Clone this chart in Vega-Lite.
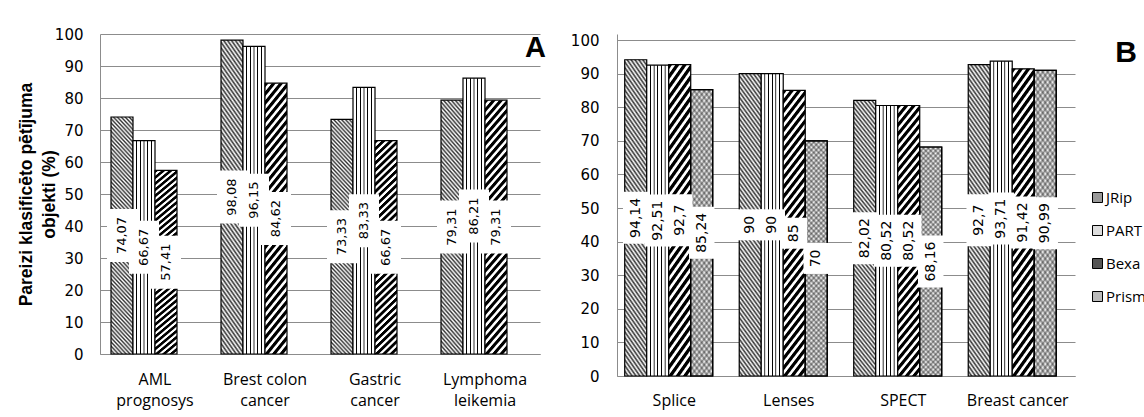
{
"$schema":"https://vega.github.io/schema/vega-lite/v6.json",
"background":"white",
"padding":{"left":17,"top":27,"right":0,"bottom":12},
"spacing":24,
"datasets":{
"a":[
{"cat":"AML prognosys","s":"JRip","v":74.07},{"cat":"AML prognosys","s":"PART","v":66.67},{"cat":"AML prognosys","s":"Bexa","v":57.41},
{"cat":"Brest colon cancer","s":"JRip","v":98.08},{"cat":"Brest colon cancer","s":"PART","v":96.15},{"cat":"Brest colon cancer","s":"Bexa","v":84.62},
{"cat":"Gastric cancer","s":"JRip","v":73.33},{"cat":"Gastric cancer","s":"PART","v":83.33},{"cat":"Gastric cancer","s":"Bexa","v":66.67},
{"cat":"Lymphoma leikemia","s":"JRip","v":79.31},{"cat":"Lymphoma leikemia","s":"PART","v":86.21},{"cat":"Lymphoma leikemia","s":"Bexa","v":79.31}
],
"b":[
{"cat":"Splice","s":"JRip","v":94.14},{"cat":"Splice","s":"PART","v":92.51},{"cat":"Splice","s":"Bexa","v":92.7},{"cat":"Splice","s":"Prism","v":85.24},
{"cat":"Lenses","s":"JRip","v":90},{"cat":"Lenses","s":"PART","v":90},{"cat":"Lenses","s":"Bexa","v":85},{"cat":"Lenses","s":"Prism","v":70},
{"cat":"SPECT","s":"JRip","v":82.02},{"cat":"SPECT","s":"PART","v":80.52},{"cat":"SPECT","s":"Bexa","v":80.52},{"cat":"SPECT","s":"Prism","v":68.16},
{"cat":"Breast cancer","s":"JRip","v":92.7},{"cat":"Breast cancer","s":"PART","v":93.71},{"cat":"Breast cancer","s":"Bexa","v":91.42},{"cat":"Breast cancer","s":"Prism","v":90.99}
]
},
"hconcat":[
{
"width":440,"height":320,
"data":{"name":"a"},
"title":{"text":"A","anchor":"end","frame":"group","font":"Liberation Sans","fontSize":29,"fontWeight":"bold","color":"#000","offset":-36,"dx":6},
"encoding":{
"x":{"field":"cat","type":"nominal","sort":null,"title":null,"scale":{"paddingInner":0.2,"paddingOuter":0.1},
"axis":{"labelAngle":0,"labelFont":"Open Sans","labelFontSize":16,"labelPadding":17,"labelLineHeight":21.5,"labelBaseline":"top","labelExpr":"datum.value == 'Brest colon cancer' ? ['Brest colon', 'cancer'] : split(datum.value, ' ')"}},
"xOffset":{"field":"s","type":"nominal","scale":{"domain":["JRip","PART","Bexa"],"paddingInner":0,"paddingOuter":0}}
},
"layer":[
{"encoding":{"y":{"field":"v","type":"quantitative","scale":{"domain":[0,100],"nice":false},
"axis":{"values":[0,10,20,30,40,50,60,70,80,90,100],"grid":true,"labelPadding":17,"title":["Pareizi klasificēto pētījuma","objekti (%)"],"titleFont":"Liberation Sans","titleFontSize":17.5,"titleFontWeight":"bold","titleColor":"#000","titleLineHeight":23,"titlePadding":-4}}},
"layer":[
{"transform":[{"filter":"datum.s === 'JRip'"}],"mark":{"type":"bar","stroke":"#000","strokeWidth":1.2,"fill":{"gradient":"linear","x1":1,"y1":0,"x2":0.89,"y2":1.1,"stops":[
{"offset":0,"color":"#333"},{"offset":0.008,"color":"#fff"},{"offset":0.016,"color":"#333"},{"offset":0.024,"color":"#fff"},
{"offset":0.032,"color":"#333"},{"offset":0.04,"color":"#fff"},{"offset":0.048,"color":"#333"},{"offset":0.056,"color":"#fff"},
{"offset":0.064,"color":"#333"},{"offset":0.072,"color":"#fff"},{"offset":0.08,"color":"#333"},{"offset":0.088,"color":"#fff"},
{"offset":0.096,"color":"#333"},{"offset":0.104,"color":"#fff"},{"offset":0.112,"color":"#333"},{"offset":0.12,"color":"#fff"},
{"offset":0.128,"color":"#333"},{"offset":0.136,"color":"#fff"},{"offset":0.144,"color":"#333"},{"offset":0.152,"color":"#fff"},
{"offset":0.16,"color":"#333"},{"offset":0.168,"color":"#fff"},{"offset":0.176,"color":"#333"},{"offset":0.184,"color":"#fff"},
{"offset":0.192,"color":"#333"},{"offset":0.2,"color":"#fff"},{"offset":0.208,"color":"#333"},{"offset":0.216,"color":"#fff"},
{"offset":0.224,"color":"#333"},{"offset":0.232,"color":"#fff"},{"offset":0.24,"color":"#333"},{"offset":0.248,"color":"#fff"},
{"offset":0.256,"color":"#333"},{"offset":0.264,"color":"#fff"},{"offset":0.272,"color":"#333"},{"offset":0.28,"color":"#fff"},
{"offset":0.288,"color":"#333"},{"offset":0.296,"color":"#fff"},{"offset":0.304,"color":"#333"},{"offset":0.312,"color":"#fff"},
{"offset":0.32,"color":"#333"},{"offset":0.328,"color":"#fff"},{"offset":0.336,"color":"#333"},{"offset":0.344,"color":"#fff"},
{"offset":0.352,"color":"#333"},{"offset":0.36,"color":"#fff"},{"offset":0.368,"color":"#333"},{"offset":0.376,"color":"#fff"},
{"offset":0.384,"color":"#333"},{"offset":0.392,"color":"#fff"},{"offset":0.4,"color":"#333"},{"offset":0.408,"color":"#fff"},
{"offset":0.416,"color":"#333"},{"offset":0.424,"color":"#fff"},{"offset":0.432,"color":"#333"},{"offset":0.44,"color":"#fff"},
{"offset":0.448,"color":"#333"},{"offset":0.456,"color":"#fff"},{"offset":0.464,"color":"#333"},{"offset":0.472,"color":"#fff"},
{"offset":0.48,"color":"#333"},{"offset":0.488,"color":"#fff"},{"offset":0.496,"color":"#333"},{"offset":0.504,"color":"#fff"},
{"offset":0.512,"color":"#333"},{"offset":0.52,"color":"#fff"},{"offset":0.528,"color":"#333"},{"offset":0.536,"color":"#fff"},
{"offset":0.544,"color":"#333"},{"offset":0.552,"color":"#fff"},{"offset":0.56,"color":"#333"},{"offset":0.568,"color":"#fff"},
{"offset":0.576,"color":"#333"},{"offset":0.584,"color":"#fff"},{"offset":0.592,"color":"#333"},{"offset":0.6,"color":"#fff"},
{"offset":0.608,"color":"#333"},{"offset":0.616,"color":"#fff"},{"offset":0.624,"color":"#333"},{"offset":0.632,"color":"#fff"},
{"offset":0.64,"color":"#333"},{"offset":0.648,"color":"#fff"},{"offset":0.656,"color":"#333"},{"offset":0.664,"color":"#fff"},
{"offset":0.672,"color":"#333"},{"offset":0.68,"color":"#fff"},{"offset":0.688,"color":"#333"},{"offset":0.696,"color":"#fff"},
{"offset":0.704,"color":"#333"},{"offset":0.712,"color":"#fff"},{"offset":0.72,"color":"#333"},{"offset":0.728,"color":"#fff"},
{"offset":0.736,"color":"#333"},{"offset":0.744,"color":"#fff"},{"offset":0.752,"color":"#333"},{"offset":0.76,"color":"#fff"},
{"offset":0.768,"color":"#333"},{"offset":0.776,"color":"#fff"},{"offset":0.784,"color":"#333"},{"offset":0.792,"color":"#fff"},
{"offset":0.8,"color":"#333"},{"offset":0.808,"color":"#fff"},{"offset":0.816,"color":"#333"},{"offset":0.824,"color":"#fff"},
{"offset":0.832,"color":"#333"},{"offset":0.84,"color":"#fff"},{"offset":0.848,"color":"#333"},{"offset":0.856,"color":"#fff"},
{"offset":0.864,"color":"#333"},{"offset":0.872,"color":"#fff"},{"offset":0.88,"color":"#333"},{"offset":0.888,"color":"#fff"},
{"offset":0.896,"color":"#333"},{"offset":0.904,"color":"#fff"},{"offset":0.912,"color":"#333"},{"offset":0.92,"color":"#fff"},
{"offset":0.928,"color":"#333"},{"offset":0.936,"color":"#fff"},{"offset":0.944,"color":"#333"},{"offset":0.952,"color":"#fff"},
{"offset":0.96,"color":"#333"},{"offset":0.968,"color":"#fff"},{"offset":0.976,"color":"#333"},{"offset":0.984,"color":"#fff"},
{"offset":0.992,"color":"#333"},{"offset":1,"color":"#fff"}]}}},
{"transform":[{"filter":"datum.s === 'PART'"}],"mark":{"type":"bar","stroke":"#000","strokeWidth":1.2,"fill":{"gradient":"linear","x1":0,"y1":0,"x2":1,"y2":0,"stops":[
{"offset":0,"color":"#fff"},
{"offset":0.1367,"color":"#fff"},{"offset":0.1547,"color":"#000"},{"offset":0.1787,"color":"#000"},{"offset":0.1967,"color":"#fff"},
{"offset":0.3033,"color":"#fff"},{"offset":0.3213,"color":"#000"},{"offset":0.3453,"color":"#000"},{"offset":0.3633,"color":"#fff"},
{"offset":0.47,"color":"#fff"},{"offset":0.488,"color":"#000"},{"offset":0.512,"color":"#000"},{"offset":0.53,"color":"#fff"},
{"offset":0.6367,"color":"#fff"},{"offset":0.6547,"color":"#000"},{"offset":0.6787,"color":"#000"},{"offset":0.6967,"color":"#fff"},
{"offset":0.8033,"color":"#fff"},{"offset":0.8213,"color":"#000"},{"offset":0.8453,"color":"#000"},{"offset":0.8633,"color":"#fff"},
{"offset":1,"color":"#fff"}]}}},
{"transform":[{"filter":"datum.s === 'Bexa'"}],"mark":{"type":"bar","stroke":"#000","strokeWidth":1.2,"fill":{"gradient":"linear","x1":0,"y1":0,"x2":0.11,"y2":1.1,"stops":[
{"offset":0,"color":"#000"},{"offset":0.012,"color":"#000"},{"offset":0.017,"color":"#fff"},{"offset":0.026,"color":"#fff"},
{"offset":0.03,"color":"#000"},{"offset":0.042,"color":"#000"},{"offset":0.047,"color":"#fff"},{"offset":0.056,"color":"#fff"},
{"offset":0.06,"color":"#000"},{"offset":0.072,"color":"#000"},{"offset":0.077,"color":"#fff"},{"offset":0.086,"color":"#fff"},
{"offset":0.09,"color":"#000"},{"offset":0.102,"color":"#000"},{"offset":0.107,"color":"#fff"},{"offset":0.116,"color":"#fff"},
{"offset":0.12,"color":"#000"},{"offset":0.132,"color":"#000"},{"offset":0.137,"color":"#fff"},{"offset":0.146,"color":"#fff"},
{"offset":0.15,"color":"#000"},{"offset":0.162,"color":"#000"},{"offset":0.167,"color":"#fff"},{"offset":0.176,"color":"#fff"},
{"offset":0.18,"color":"#000"},{"offset":0.192,"color":"#000"},{"offset":0.197,"color":"#fff"},{"offset":0.206,"color":"#fff"},
{"offset":0.21,"color":"#000"},{"offset":0.222,"color":"#000"},{"offset":0.227,"color":"#fff"},{"offset":0.236,"color":"#fff"},
{"offset":0.24,"color":"#000"},{"offset":0.252,"color":"#000"},{"offset":0.257,"color":"#fff"},{"offset":0.266,"color":"#fff"},
{"offset":0.27,"color":"#000"},{"offset":0.282,"color":"#000"},{"offset":0.287,"color":"#fff"},{"offset":0.296,"color":"#fff"},
{"offset":0.3,"color":"#000"},{"offset":0.312,"color":"#000"},{"offset":0.317,"color":"#fff"},{"offset":0.326,"color":"#fff"},
{"offset":0.33,"color":"#000"},{"offset":0.342,"color":"#000"},{"offset":0.347,"color":"#fff"},{"offset":0.356,"color":"#fff"},
{"offset":0.36,"color":"#000"},{"offset":0.372,"color":"#000"},{"offset":0.377,"color":"#fff"},{"offset":0.386,"color":"#fff"},
{"offset":0.39,"color":"#000"},{"offset":0.402,"color":"#000"},{"offset":0.407,"color":"#fff"},{"offset":0.416,"color":"#fff"},
{"offset":0.42,"color":"#000"},{"offset":0.432,"color":"#000"},{"offset":0.437,"color":"#fff"},{"offset":0.446,"color":"#fff"},
{"offset":0.45,"color":"#000"},{"offset":0.462,"color":"#000"},{"offset":0.467,"color":"#fff"},{"offset":0.476,"color":"#fff"},
{"offset":0.48,"color":"#000"},{"offset":0.492,"color":"#000"},{"offset":0.497,"color":"#fff"},{"offset":0.506,"color":"#fff"},
{"offset":0.51,"color":"#000"},{"offset":0.522,"color":"#000"},{"offset":0.527,"color":"#fff"},{"offset":0.536,"color":"#fff"},
{"offset":0.54,"color":"#000"},{"offset":0.552,"color":"#000"},{"offset":0.557,"color":"#fff"},{"offset":0.566,"color":"#fff"},
{"offset":0.57,"color":"#000"},{"offset":0.582,"color":"#000"},{"offset":0.587,"color":"#fff"},{"offset":0.596,"color":"#fff"},
{"offset":0.6,"color":"#000"},{"offset":0.612,"color":"#000"},{"offset":0.617,"color":"#fff"},{"offset":0.626,"color":"#fff"},
{"offset":0.63,"color":"#000"},{"offset":0.642,"color":"#000"},{"offset":0.647,"color":"#fff"},{"offset":0.656,"color":"#fff"},
{"offset":0.66,"color":"#000"},{"offset":0.672,"color":"#000"},{"offset":0.677,"color":"#fff"},{"offset":0.686,"color":"#fff"},
{"offset":0.69,"color":"#000"},{"offset":0.702,"color":"#000"},{"offset":0.707,"color":"#fff"},{"offset":0.716,"color":"#fff"},
{"offset":0.72,"color":"#000"},{"offset":0.732,"color":"#000"},{"offset":0.737,"color":"#fff"},{"offset":0.746,"color":"#fff"},
{"offset":0.75,"color":"#000"},{"offset":0.762,"color":"#000"},{"offset":0.767,"color":"#fff"},{"offset":0.776,"color":"#fff"},
{"offset":0.78,"color":"#000"},{"offset":0.792,"color":"#000"},{"offset":0.797,"color":"#fff"},{"offset":0.806,"color":"#fff"},
{"offset":0.81,"color":"#000"},{"offset":0.822,"color":"#000"},{"offset":0.827,"color":"#fff"},{"offset":0.836,"color":"#fff"},
{"offset":0.84,"color":"#000"},{"offset":0.852,"color":"#000"},{"offset":0.857,"color":"#fff"},{"offset":0.866,"color":"#fff"},
{"offset":0.87,"color":"#000"},{"offset":0.882,"color":"#000"},{"offset":0.887,"color":"#fff"},{"offset":0.896,"color":"#fff"},
{"offset":0.9,"color":"#000"},{"offset":0.912,"color":"#000"},{"offset":0.917,"color":"#fff"},{"offset":0.926,"color":"#fff"},
{"offset":0.93,"color":"#000"},{"offset":0.942,"color":"#000"},{"offset":0.947,"color":"#fff"},{"offset":0.956,"color":"#fff"},
{"offset":0.96,"color":"#000"},{"offset":0.972,"color":"#000"},{"offset":0.977,"color":"#fff"},{"offset":0.986,"color":"#fff"},
{"offset":0.99,"color":"#000"},{"offset":1,"color":"#000"}]}}}
]},
{"encoding":{"y":{"field":"v","type":"quantitative","scale":{"domain":[0,200],"nice":false},"axis":null}},
"layer":[
{"mark":{"type":"tick","color":"#fff","opacity":1,"thickness":53,"size":30}},
{"mark":{"type":"text","angle":270,"font":"DejaVu Sans","fontSize":13,"color":"#000","baseline":"middle","align":"center"},"encoding":{"text":{"field":"v","type":"quantitative","format":".4~g"}}}
]}
],
"resolve":{"scale":{"y":"independent"}}
},
{
"width":458,"height":342,
"data":{"name":"b"},
"title":{"text":"B","anchor":"end","frame":"group","font":"Liberation Sans","fontSize":30,"fontWeight":"bold","color":"#000","offset":-35,"dx":62},
"encoding":{
"x":{"field":"cat","type":"nominal","sort":null,"title":null,"scale":{"paddingInner":0.135,"paddingOuter":0.0675},
"axis":{"labelAngle":0,"labelFont":"Open Sans","labelFontSize":16,"labelPadding":16,"labelBaseline":"top"}},
"xOffset":{"field":"s","type":"nominal","scale":{"domain":["JRip","PART","Bexa","Prism"],"paddingInner":0,"paddingOuter":0}}
},
"layer":[
{"encoding":{"y":{"field":"v","type":"quantitative","scale":{"domain":[0,101.8],"nice":false},
"axis":{"values":[0,10,20,30,40,50,60,70,80,90,100],"grid":true,"labelPadding":18,"title":null}}},
"layer":[
{"mark":{"type":"bar","stroke":null},"encoding":{"fill":{"field":"s","type":"nominal","scale":{"domain":["JRip","PART","Bexa","Prism"],"range":["#999999","#dddddd","#555555","#bbbbbb"]},
"legend":{"title":null,"orient":"none","legendX":990,"legendY":156,"symbolType":"square","symbolSize":100,"symbolStrokeColor":"#000","symbolStrokeWidth":1,"labelFont":"Open Sans","labelFontSize":15,"labelColor":"#000","rowPadding":17,"labelOffset":1,"padding":0}}}},
{"transform":[{"filter":"datum.s === 'JRip'"}],"mark":{"type":"bar","stroke":"#000","strokeWidth":1.2,"fill":{"gradient":"linear","x1":1,"y1":0,"x2":0.89,"y2":1.1,"stops":[
{"offset":0,"color":"#333"},{"offset":0.008,"color":"#fff"},{"offset":0.016,"color":"#333"},{"offset":0.024,"color":"#fff"},
{"offset":0.032,"color":"#333"},{"offset":0.04,"color":"#fff"},{"offset":0.048,"color":"#333"},{"offset":0.056,"color":"#fff"},
{"offset":0.064,"color":"#333"},{"offset":0.072,"color":"#fff"},{"offset":0.08,"color":"#333"},{"offset":0.088,"color":"#fff"},
{"offset":0.096,"color":"#333"},{"offset":0.104,"color":"#fff"},{"offset":0.112,"color":"#333"},{"offset":0.12,"color":"#fff"},
{"offset":0.128,"color":"#333"},{"offset":0.136,"color":"#fff"},{"offset":0.144,"color":"#333"},{"offset":0.152,"color":"#fff"},
{"offset":0.16,"color":"#333"},{"offset":0.168,"color":"#fff"},{"offset":0.176,"color":"#333"},{"offset":0.184,"color":"#fff"},
{"offset":0.192,"color":"#333"},{"offset":0.2,"color":"#fff"},{"offset":0.208,"color":"#333"},{"offset":0.216,"color":"#fff"},
{"offset":0.224,"color":"#333"},{"offset":0.232,"color":"#fff"},{"offset":0.24,"color":"#333"},{"offset":0.248,"color":"#fff"},
{"offset":0.256,"color":"#333"},{"offset":0.264,"color":"#fff"},{"offset":0.272,"color":"#333"},{"offset":0.28,"color":"#fff"},
{"offset":0.288,"color":"#333"},{"offset":0.296,"color":"#fff"},{"offset":0.304,"color":"#333"},{"offset":0.312,"color":"#fff"},
{"offset":0.32,"color":"#333"},{"offset":0.328,"color":"#fff"},{"offset":0.336,"color":"#333"},{"offset":0.344,"color":"#fff"},
{"offset":0.352,"color":"#333"},{"offset":0.36,"color":"#fff"},{"offset":0.368,"color":"#333"},{"offset":0.376,"color":"#fff"},
{"offset":0.384,"color":"#333"},{"offset":0.392,"color":"#fff"},{"offset":0.4,"color":"#333"},{"offset":0.408,"color":"#fff"},
{"offset":0.416,"color":"#333"},{"offset":0.424,"color":"#fff"},{"offset":0.432,"color":"#333"},{"offset":0.44,"color":"#fff"},
{"offset":0.448,"color":"#333"},{"offset":0.456,"color":"#fff"},{"offset":0.464,"color":"#333"},{"offset":0.472,"color":"#fff"},
{"offset":0.48,"color":"#333"},{"offset":0.488,"color":"#fff"},{"offset":0.496,"color":"#333"},{"offset":0.504,"color":"#fff"},
{"offset":0.512,"color":"#333"},{"offset":0.52,"color":"#fff"},{"offset":0.528,"color":"#333"},{"offset":0.536,"color":"#fff"},
{"offset":0.544,"color":"#333"},{"offset":0.552,"color":"#fff"},{"offset":0.56,"color":"#333"},{"offset":0.568,"color":"#fff"},
{"offset":0.576,"color":"#333"},{"offset":0.584,"color":"#fff"},{"offset":0.592,"color":"#333"},{"offset":0.6,"color":"#fff"},
{"offset":0.608,"color":"#333"},{"offset":0.616,"color":"#fff"},{"offset":0.624,"color":"#333"},{"offset":0.632,"color":"#fff"},
{"offset":0.64,"color":"#333"},{"offset":0.648,"color":"#fff"},{"offset":0.656,"color":"#333"},{"offset":0.664,"color":"#fff"},
{"offset":0.672,"color":"#333"},{"offset":0.68,"color":"#fff"},{"offset":0.688,"color":"#333"},{"offset":0.696,"color":"#fff"},
{"offset":0.704,"color":"#333"},{"offset":0.712,"color":"#fff"},{"offset":0.72,"color":"#333"},{"offset":0.728,"color":"#fff"},
{"offset":0.736,"color":"#333"},{"offset":0.744,"color":"#fff"},{"offset":0.752,"color":"#333"},{"offset":0.76,"color":"#fff"},
{"offset":0.768,"color":"#333"},{"offset":0.776,"color":"#fff"},{"offset":0.784,"color":"#333"},{"offset":0.792,"color":"#fff"},
{"offset":0.8,"color":"#333"},{"offset":0.808,"color":"#fff"},{"offset":0.816,"color":"#333"},{"offset":0.824,"color":"#fff"},
{"offset":0.832,"color":"#333"},{"offset":0.84,"color":"#fff"},{"offset":0.848,"color":"#333"},{"offset":0.856,"color":"#fff"},
{"offset":0.864,"color":"#333"},{"offset":0.872,"color":"#fff"},{"offset":0.88,"color":"#333"},{"offset":0.888,"color":"#fff"},
{"offset":0.896,"color":"#333"},{"offset":0.904,"color":"#fff"},{"offset":0.912,"color":"#333"},{"offset":0.92,"color":"#fff"},
{"offset":0.928,"color":"#333"},{"offset":0.936,"color":"#fff"},{"offset":0.944,"color":"#333"},{"offset":0.952,"color":"#fff"},
{"offset":0.96,"color":"#333"},{"offset":0.968,"color":"#fff"},{"offset":0.976,"color":"#333"},{"offset":0.984,"color":"#fff"},
{"offset":0.992,"color":"#333"},{"offset":1,"color":"#fff"}]}}},
{"transform":[{"filter":"datum.s === 'PART'"}],"mark":{"type":"bar","stroke":"#000","strokeWidth":1.2,"fill":{"gradient":"linear","x1":0,"y1":0,"x2":1,"y2":0,"stops":[
{"offset":0,"color":"#fff"},
{"offset":0.1367,"color":"#fff"},{"offset":0.1547,"color":"#000"},{"offset":0.1787,"color":"#000"},{"offset":0.1967,"color":"#fff"},
{"offset":0.3033,"color":"#fff"},{"offset":0.3213,"color":"#000"},{"offset":0.3453,"color":"#000"},{"offset":0.3633,"color":"#fff"},
{"offset":0.47,"color":"#fff"},{"offset":0.488,"color":"#000"},{"offset":0.512,"color":"#000"},{"offset":0.53,"color":"#fff"},
{"offset":0.6367,"color":"#fff"},{"offset":0.6547,"color":"#000"},{"offset":0.6787,"color":"#000"},{"offset":0.6967,"color":"#fff"},
{"offset":0.8033,"color":"#fff"},{"offset":0.8213,"color":"#000"},{"offset":0.8453,"color":"#000"},{"offset":0.8633,"color":"#fff"},
{"offset":1,"color":"#fff"}]}}},
{"transform":[{"filter":"datum.s === 'Bexa'"}],"mark":{"type":"bar","stroke":"#000","strokeWidth":1.2,"fill":{"gradient":"linear","x1":0,"y1":0,"x2":0.11,"y2":1.1,"stops":[
{"offset":0,"color":"#000"},{"offset":0.012,"color":"#000"},{"offset":0.017,"color":"#fff"},{"offset":0.026,"color":"#fff"},
{"offset":0.03,"color":"#000"},{"offset":0.042,"color":"#000"},{"offset":0.047,"color":"#fff"},{"offset":0.056,"color":"#fff"},
{"offset":0.06,"color":"#000"},{"offset":0.072,"color":"#000"},{"offset":0.077,"color":"#fff"},{"offset":0.086,"color":"#fff"},
{"offset":0.09,"color":"#000"},{"offset":0.102,"color":"#000"},{"offset":0.107,"color":"#fff"},{"offset":0.116,"color":"#fff"},
{"offset":0.12,"color":"#000"},{"offset":0.132,"color":"#000"},{"offset":0.137,"color":"#fff"},{"offset":0.146,"color":"#fff"},
{"offset":0.15,"color":"#000"},{"offset":0.162,"color":"#000"},{"offset":0.167,"color":"#fff"},{"offset":0.176,"color":"#fff"},
{"offset":0.18,"color":"#000"},{"offset":0.192,"color":"#000"},{"offset":0.197,"color":"#fff"},{"offset":0.206,"color":"#fff"},
{"offset":0.21,"color":"#000"},{"offset":0.222,"color":"#000"},{"offset":0.227,"color":"#fff"},{"offset":0.236,"color":"#fff"},
{"offset":0.24,"color":"#000"},{"offset":0.252,"color":"#000"},{"offset":0.257,"color":"#fff"},{"offset":0.266,"color":"#fff"},
{"offset":0.27,"color":"#000"},{"offset":0.282,"color":"#000"},{"offset":0.287,"color":"#fff"},{"offset":0.296,"color":"#fff"},
{"offset":0.3,"color":"#000"},{"offset":0.312,"color":"#000"},{"offset":0.317,"color":"#fff"},{"offset":0.326,"color":"#fff"},
{"offset":0.33,"color":"#000"},{"offset":0.342,"color":"#000"},{"offset":0.347,"color":"#fff"},{"offset":0.356,"color":"#fff"},
{"offset":0.36,"color":"#000"},{"offset":0.372,"color":"#000"},{"offset":0.377,"color":"#fff"},{"offset":0.386,"color":"#fff"},
{"offset":0.39,"color":"#000"},{"offset":0.402,"color":"#000"},{"offset":0.407,"color":"#fff"},{"offset":0.416,"color":"#fff"},
{"offset":0.42,"color":"#000"},{"offset":0.432,"color":"#000"},{"offset":0.437,"color":"#fff"},{"offset":0.446,"color":"#fff"},
{"offset":0.45,"color":"#000"},{"offset":0.462,"color":"#000"},{"offset":0.467,"color":"#fff"},{"offset":0.476,"color":"#fff"},
{"offset":0.48,"color":"#000"},{"offset":0.492,"color":"#000"},{"offset":0.497,"color":"#fff"},{"offset":0.506,"color":"#fff"},
{"offset":0.51,"color":"#000"},{"offset":0.522,"color":"#000"},{"offset":0.527,"color":"#fff"},{"offset":0.536,"color":"#fff"},
{"offset":0.54,"color":"#000"},{"offset":0.552,"color":"#000"},{"offset":0.557,"color":"#fff"},{"offset":0.566,"color":"#fff"},
{"offset":0.57,"color":"#000"},{"offset":0.582,"color":"#000"},{"offset":0.587,"color":"#fff"},{"offset":0.596,"color":"#fff"},
{"offset":0.6,"color":"#000"},{"offset":0.612,"color":"#000"},{"offset":0.617,"color":"#fff"},{"offset":0.626,"color":"#fff"},
{"offset":0.63,"color":"#000"},{"offset":0.642,"color":"#000"},{"offset":0.647,"color":"#fff"},{"offset":0.656,"color":"#fff"},
{"offset":0.66,"color":"#000"},{"offset":0.672,"color":"#000"},{"offset":0.677,"color":"#fff"},{"offset":0.686,"color":"#fff"},
{"offset":0.69,"color":"#000"},{"offset":0.702,"color":"#000"},{"offset":0.707,"color":"#fff"},{"offset":0.716,"color":"#fff"},
{"offset":0.72,"color":"#000"},{"offset":0.732,"color":"#000"},{"offset":0.737,"color":"#fff"},{"offset":0.746,"color":"#fff"},
{"offset":0.75,"color":"#000"},{"offset":0.762,"color":"#000"},{"offset":0.767,"color":"#fff"},{"offset":0.776,"color":"#fff"},
{"offset":0.78,"color":"#000"},{"offset":0.792,"color":"#000"},{"offset":0.797,"color":"#fff"},{"offset":0.806,"color":"#fff"},
{"offset":0.81,"color":"#000"},{"offset":0.822,"color":"#000"},{"offset":0.827,"color":"#fff"},{"offset":0.836,"color":"#fff"},
{"offset":0.84,"color":"#000"},{"offset":0.852,"color":"#000"},{"offset":0.857,"color":"#fff"},{"offset":0.866,"color":"#fff"},
{"offset":0.87,"color":"#000"},{"offset":0.882,"color":"#000"},{"offset":0.887,"color":"#fff"},{"offset":0.896,"color":"#fff"},
{"offset":0.9,"color":"#000"},{"offset":0.912,"color":"#000"},{"offset":0.917,"color":"#fff"},{"offset":0.926,"color":"#fff"},
{"offset":0.93,"color":"#000"},{"offset":0.942,"color":"#000"},{"offset":0.947,"color":"#fff"},{"offset":0.956,"color":"#fff"},
{"offset":0.96,"color":"#000"},{"offset":0.972,"color":"#000"},{"offset":0.977,"color":"#fff"},{"offset":0.986,"color":"#fff"},
{"offset":0.99,"color":"#000"},{"offset":1,"color":"#000"}]}}},
{"transform":[{"filter":"datum.s === 'Prism'"}],"mark":{"type":"bar","stroke":"#000","strokeWidth":1.2,"fill":{"gradient":"linear","x1":1,"y1":0,"x2":0.89,"y2":1.1,"stops":[
{"offset":0,"color":"#999"},{"offset":0.01,"color":"#fff"},{"offset":0.02,"color":"#999"},{"offset":0.03,"color":"#fff"},
{"offset":0.04,"color":"#999"},{"offset":0.05,"color":"#fff"},{"offset":0.06,"color":"#999"},{"offset":0.07,"color":"#fff"},
{"offset":0.08,"color":"#999"},{"offset":0.09,"color":"#fff"},{"offset":0.1,"color":"#999"},{"offset":0.11,"color":"#fff"},
{"offset":0.12,"color":"#999"},{"offset":0.13,"color":"#fff"},{"offset":0.14,"color":"#999"},{"offset":0.15,"color":"#fff"},
{"offset":0.16,"color":"#999"},{"offset":0.17,"color":"#fff"},{"offset":0.18,"color":"#999"},{"offset":0.19,"color":"#fff"},
{"offset":0.2,"color":"#999"},{"offset":0.21,"color":"#fff"},{"offset":0.22,"color":"#999"},{"offset":0.23,"color":"#fff"},
{"offset":0.24,"color":"#999"},{"offset":0.25,"color":"#fff"},{"offset":0.26,"color":"#999"},{"offset":0.27,"color":"#fff"},
{"offset":0.28,"color":"#999"},{"offset":0.29,"color":"#fff"},{"offset":0.3,"color":"#999"},{"offset":0.31,"color":"#fff"},
{"offset":0.32,"color":"#999"},{"offset":0.33,"color":"#fff"},{"offset":0.34,"color":"#999"},{"offset":0.35,"color":"#fff"},
{"offset":0.36,"color":"#999"},{"offset":0.37,"color":"#fff"},{"offset":0.38,"color":"#999"},{"offset":0.39,"color":"#fff"},
{"offset":0.4,"color":"#999"},{"offset":0.41,"color":"#fff"},{"offset":0.42,"color":"#999"},{"offset":0.43,"color":"#fff"},
{"offset":0.44,"color":"#999"},{"offset":0.45,"color":"#fff"},{"offset":0.46,"color":"#999"},{"offset":0.47,"color":"#fff"},
{"offset":0.48,"color":"#999"},{"offset":0.49,"color":"#fff"},{"offset":0.5,"color":"#999"},{"offset":0.51,"color":"#fff"},
{"offset":0.52,"color":"#999"},{"offset":0.53,"color":"#fff"},{"offset":0.54,"color":"#999"},{"offset":0.55,"color":"#fff"},
{"offset":0.56,"color":"#999"},{"offset":0.57,"color":"#fff"},{"offset":0.58,"color":"#999"},{"offset":0.59,"color":"#fff"},
{"offset":0.6,"color":"#999"},{"offset":0.61,"color":"#fff"},{"offset":0.62,"color":"#999"},{"offset":0.63,"color":"#fff"},
{"offset":0.64,"color":"#999"},{"offset":0.65,"color":"#fff"},{"offset":0.66,"color":"#999"},{"offset":0.67,"color":"#fff"},
{"offset":0.68,"color":"#999"},{"offset":0.69,"color":"#fff"},{"offset":0.7,"color":"#999"},{"offset":0.71,"color":"#fff"},
{"offset":0.72,"color":"#999"},{"offset":0.73,"color":"#fff"},{"offset":0.74,"color":"#999"},{"offset":0.75,"color":"#fff"},
{"offset":0.76,"color":"#999"},{"offset":0.77,"color":"#fff"},{"offset":0.78,"color":"#999"},{"offset":0.79,"color":"#fff"},
{"offset":0.8,"color":"#999"},{"offset":0.81,"color":"#fff"},{"offset":0.82,"color":"#999"},{"offset":0.83,"color":"#fff"},
{"offset":0.84,"color":"#999"},{"offset":0.85,"color":"#fff"},{"offset":0.86,"color":"#999"},{"offset":0.87,"color":"#fff"},
{"offset":0.88,"color":"#999"},{"offset":0.89,"color":"#fff"},{"offset":0.9,"color":"#999"},{"offset":0.91,"color":"#fff"},
{"offset":0.92,"color":"#999"},{"offset":0.93,"color":"#fff"},{"offset":0.94,"color":"#999"},{"offset":0.95,"color":"#fff"},
{"offset":0.96,"color":"#999"},{"offset":0.97,"color":"#fff"},{"offset":0.98,"color":"#999"},{"offset":0.99,"color":"#fff"},
{"offset":1,"color":"#999"}]}}},
{"transform":[{"filter":"datum.s === 'Prism'"}],"mark":{"type":"bar","stroke":"#000","strokeWidth":1.2,"fill":{"gradient":"linear","x1":0,"y1":0,"x2":0.11,"y2":1.1,"stops":[
{"offset":0,"color":"rgba(0,0,0,0.4)"},{"offset":0.01,"color":"rgba(0,0,0,0)"},{"offset":0.02,"color":"rgba(0,0,0,0.4)"},{"offset":0.03,"color":"rgba(0,0,0,0)"},
{"offset":0.04,"color":"rgba(0,0,0,0.4)"},{"offset":0.05,"color":"rgba(0,0,0,0)"},{"offset":0.06,"color":"rgba(0,0,0,0.4)"},{"offset":0.07,"color":"rgba(0,0,0,0)"},
{"offset":0.08,"color":"rgba(0,0,0,0.4)"},{"offset":0.09,"color":"rgba(0,0,0,0)"},{"offset":0.1,"color":"rgba(0,0,0,0.4)"},{"offset":0.11,"color":"rgba(0,0,0,0)"},
{"offset":0.12,"color":"rgba(0,0,0,0.4)"},{"offset":0.13,"color":"rgba(0,0,0,0)"},{"offset":0.14,"color":"rgba(0,0,0,0.4)"},{"offset":0.15,"color":"rgba(0,0,0,0)"},
{"offset":0.16,"color":"rgba(0,0,0,0.4)"},{"offset":0.17,"color":"rgba(0,0,0,0)"},{"offset":0.18,"color":"rgba(0,0,0,0.4)"},{"offset":0.19,"color":"rgba(0,0,0,0)"},
{"offset":0.2,"color":"rgba(0,0,0,0.4)"},{"offset":0.21,"color":"rgba(0,0,0,0)"},{"offset":0.22,"color":"rgba(0,0,0,0.4)"},{"offset":0.23,"color":"rgba(0,0,0,0)"},
{"offset":0.24,"color":"rgba(0,0,0,0.4)"},{"offset":0.25,"color":"rgba(0,0,0,0)"},{"offset":0.26,"color":"rgba(0,0,0,0.4)"},{"offset":0.27,"color":"rgba(0,0,0,0)"},
{"offset":0.28,"color":"rgba(0,0,0,0.4)"},{"offset":0.29,"color":"rgba(0,0,0,0)"},{"offset":0.3,"color":"rgba(0,0,0,0.4)"},{"offset":0.31,"color":"rgba(0,0,0,0)"},
{"offset":0.32,"color":"rgba(0,0,0,0.4)"},{"offset":0.33,"color":"rgba(0,0,0,0)"},{"offset":0.34,"color":"rgba(0,0,0,0.4)"},{"offset":0.35,"color":"rgba(0,0,0,0)"},
{"offset":0.36,"color":"rgba(0,0,0,0.4)"},{"offset":0.37,"color":"rgba(0,0,0,0)"},{"offset":0.38,"color":"rgba(0,0,0,0.4)"},{"offset":0.39,"color":"rgba(0,0,0,0)"},
{"offset":0.4,"color":"rgba(0,0,0,0.4)"},{"offset":0.41,"color":"rgba(0,0,0,0)"},{"offset":0.42,"color":"rgba(0,0,0,0.4)"},{"offset":0.43,"color":"rgba(0,0,0,0)"},
{"offset":0.44,"color":"rgba(0,0,0,0.4)"},{"offset":0.45,"color":"rgba(0,0,0,0)"},{"offset":0.46,"color":"rgba(0,0,0,0.4)"},{"offset":0.47,"color":"rgba(0,0,0,0)"},
{"offset":0.48,"color":"rgba(0,0,0,0.4)"},{"offset":0.49,"color":"rgba(0,0,0,0)"},{"offset":0.5,"color":"rgba(0,0,0,0.4)"},{"offset":0.51,"color":"rgba(0,0,0,0)"},
{"offset":0.52,"color":"rgba(0,0,0,0.4)"},{"offset":0.53,"color":"rgba(0,0,0,0)"},{"offset":0.54,"color":"rgba(0,0,0,0.4)"},{"offset":0.55,"color":"rgba(0,0,0,0)"},
{"offset":0.56,"color":"rgba(0,0,0,0.4)"},{"offset":0.57,"color":"rgba(0,0,0,0)"},{"offset":0.58,"color":"rgba(0,0,0,0.4)"},{"offset":0.59,"color":"rgba(0,0,0,0)"},
{"offset":0.6,"color":"rgba(0,0,0,0.4)"},{"offset":0.61,"color":"rgba(0,0,0,0)"},{"offset":0.62,"color":"rgba(0,0,0,0.4)"},{"offset":0.63,"color":"rgba(0,0,0,0)"},
{"offset":0.64,"color":"rgba(0,0,0,0.4)"},{"offset":0.65,"color":"rgba(0,0,0,0)"},{"offset":0.66,"color":"rgba(0,0,0,0.4)"},{"offset":0.67,"color":"rgba(0,0,0,0)"},
{"offset":0.68,"color":"rgba(0,0,0,0.4)"},{"offset":0.69,"color":"rgba(0,0,0,0)"},{"offset":0.7,"color":"rgba(0,0,0,0.4)"},{"offset":0.71,"color":"rgba(0,0,0,0)"},
{"offset":0.72,"color":"rgba(0,0,0,0.4)"},{"offset":0.73,"color":"rgba(0,0,0,0)"},{"offset":0.74,"color":"rgba(0,0,0,0.4)"},{"offset":0.75,"color":"rgba(0,0,0,0)"},
{"offset":0.76,"color":"rgba(0,0,0,0.4)"},{"offset":0.77,"color":"rgba(0,0,0,0)"},{"offset":0.78,"color":"rgba(0,0,0,0.4)"},{"offset":0.79,"color":"rgba(0,0,0,0)"},
{"offset":0.8,"color":"rgba(0,0,0,0.4)"},{"offset":0.81,"color":"rgba(0,0,0,0)"},{"offset":0.82,"color":"rgba(0,0,0,0.4)"},{"offset":0.83,"color":"rgba(0,0,0,0)"},
{"offset":0.84,"color":"rgba(0,0,0,0.4)"},{"offset":0.85,"color":"rgba(0,0,0,0)"},{"offset":0.86,"color":"rgba(0,0,0,0.4)"},{"offset":0.87,"color":"rgba(0,0,0,0)"},
{"offset":0.88,"color":"rgba(0,0,0,0.4)"},{"offset":0.89,"color":"rgba(0,0,0,0)"},{"offset":0.9,"color":"rgba(0,0,0,0.4)"},{"offset":0.91,"color":"rgba(0,0,0,0)"},
{"offset":0.92,"color":"rgba(0,0,0,0.4)"},{"offset":0.93,"color":"rgba(0,0,0,0)"},{"offset":0.94,"color":"rgba(0,0,0,0.4)"},{"offset":0.95,"color":"rgba(0,0,0,0)"},
{"offset":0.96,"color":"rgba(0,0,0,0.4)"},{"offset":0.97,"color":"rgba(0,0,0,0)"},{"offset":0.98,"color":"rgba(0,0,0,0.4)"},{"offset":0.99,"color":"rgba(0,0,0,0)"},
{"offset":1,"color":"rgba(0,0,0,0)"}]}}}
]},
{"encoding":{"y":{"field":"v","type":"quantitative","scale":{"domain":[0,203.6],"nice":false},"axis":null}},
"layer":[
{"transform":[{"filter":"datum.v % 1 !== 0"}],"mark":{"type":"tick","color":"#fff","opacity":1,"thickness":52,"size":25.5}},
{"transform":[{"filter":"datum.v % 1 === 0"}],"mark":{"type":"tick","color":"#fff","opacity":1,"thickness":31,"size":25.5}},
{"mark":{"type":"text","angle":270,"font":"DejaVu Sans","fontSize":14,"color":"#000","baseline":"middle","align":"center"},"encoding":{"text":{"field":"v","type":"quantitative","format":".4~g"}}}
]}
],
"resolve":{"scale":{"y":"independent"}}
}
],
"config":{
"view":{"stroke":null},
"locale":{"number":{"decimal":",","thousands":".","grouping":[3],"currency":["","€"]}},
"axis":{"gridColor":"#8c8c8c","domainColor":"#8c8c8c","ticks":false,"labelColor":"#000","labelFont":"DejaVu Sans","labelFontSize":15}
}
}
